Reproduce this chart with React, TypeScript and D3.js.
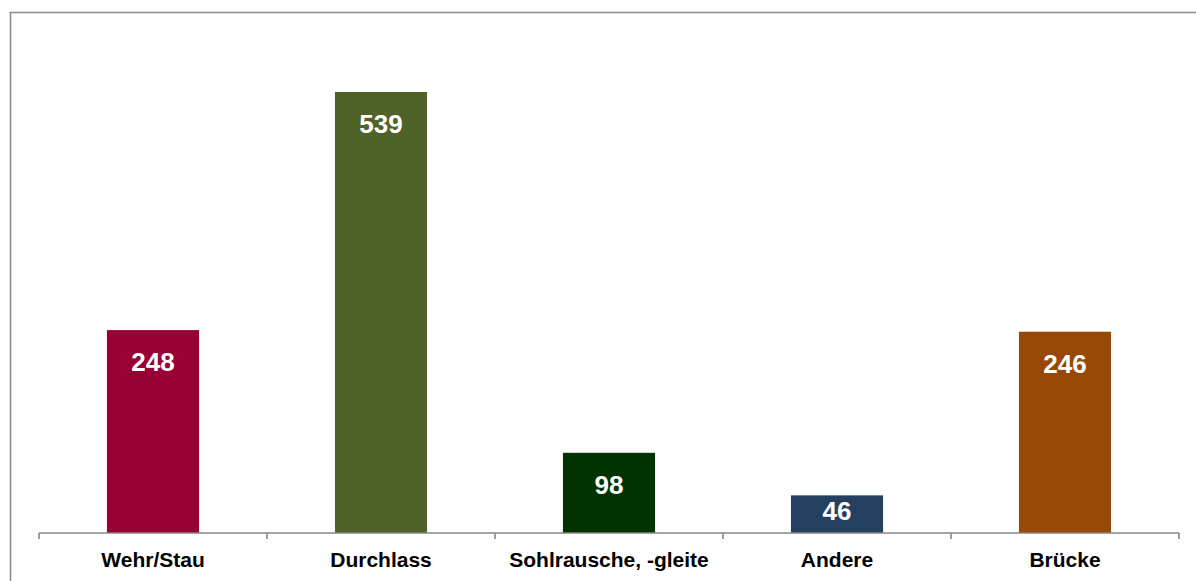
import React from "react";
import * as d3 from "d3";

const categories = ["Wehr/Stau", "Durchlass", "Sohlrausche, -gleite", "Andere", "Brücke"];
const values = [248, 539, 98, 46, 246];
const colors = ["#990033", "#4F6228", "#003300", "#243F60", "#984807"];

const W = 1196;
const H = 581;
const axisY = 533;
const x0 = 39;
const x1 = 1179;

export default function App() {
  const x = d3
    .scaleBand<string>()
    .domain(categories)
    .range([x0, x1])
    .paddingInner(0.596)
    .paddingOuter(0.298);
  const y = d3.scaleLinear().domain([0, 600]).range([axisY, axisY - 600 * (441 / 539)]);
  const step = x.step();
  const tickXs = d3.range(categories.length + 1).map((i) => x0 + i * step);
  const font = "'Liberation Sans', Arial, sans-serif";

  return (
    <svg
      width={W}
      height={H}
      style={{ position: "absolute", left: 0, top: 0, display: "block", background: "#fff" }}
    >
      <path d={`M10.5,${H + 5}V12.5H${W + 5}`} fill="none" stroke="#8c8c8c" strokeWidth={1.6} />
      {categories.map((c, i) => {
        const top = y(values[i]);
        const cx = (x(c) as number) + x.bandwidth() / 2;
        const base = Math.min(top + 41, axisY - 13);
        return (
          <g key={c}>
            <rect x={x(c)} y={top} width={x.bandwidth()} height={axisY - top} fill={colors[i]} />
            <text
              x={cx}
              y={base}
              textAnchor="middle"
              fill="#fff"
              fontFamily={font}
              fontWeight="bold"
              fontSize={26}
            >
              {values[i]}
            </text>
            <text
              x={cx}
              y={567}
              textAnchor="middle"
              fill="#000"
              fontFamily={font}
              fontWeight="bold"
              fontSize={21}
            >
              {c}
            </text>
          </g>
        );
      })}
      <line x1={x0} x2={x1} y1={axisY} y2={axisY} stroke="#868686" strokeWidth={1.6} />
      {tickXs.map((tx, i) => (
        <line key={i} x1={tx} x2={tx} y1={axisY} y2={axisY + 6} stroke="#868686" strokeWidth={1.6} />
      ))}
    </svg>
  );
}
